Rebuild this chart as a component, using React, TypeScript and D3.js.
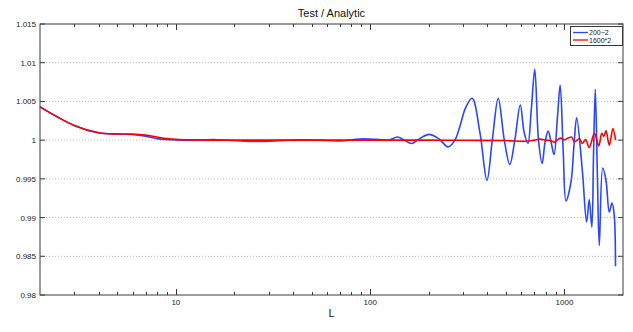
import * as d3 from 'd3';

// L values and ratios (Test / Analytic)
const blueL = [2, 3, 4, 5, 6, 7, 8, 10, 13, 16, 20, 25, 32, 42, 55, 70, 88, 108, 125, 138, 150, 163, 180, 201, 225, 252, 273, 289, 310, 335, 367, 399, 425, 456, 490, 523, 555, 592, 620, 648, 675, 703, 735, 767, 795, 824, 855, 884, 920, 950, 985, 1018, 1080, 1120, 1155, 1235, 1300, 1340, 1383, 1410, 1440, 1475, 1510, 1573, 1635, 1700, 1755, 1800, 1830];
const blueV = [1.0043, 1.0019, 1.00095, 1.00078, 1.00072, 1.0005, 1.0002, 1.00003, 1.0, 1.00006, 0.99995, 0.99982, 0.9999, 1.00005, 1.0, 0.9999, 1.00015, 1.0001, 1.0, 1.0004, 1.0, 0.99957, 1.0002, 1.00074, 1.0002, 0.99913, 1.0, 1.0017, 1.0042, 1.0054, 1.001, 0.99482, 1.0, 1.0054, 1.0, 0.99685, 1.0, 1.00453, 1.001, 0.99957, 1.004, 1.00916, 1.0, 0.99698, 0.9998, 1.00117, 0.9996, 0.99815, 1.003, 1.00712, 0.9985, 0.99214, 0.9946, 0.9995, 1.00289, 0.99611, 0.98942, 0.99232, 0.98877, 0.998, 1.00657, 0.996, 0.9864, 0.99641, 0.99482, 0.99071, 0.99188, 0.9905, 0.9837];

const redL = [2, 3, 4, 5, 6, 7, 8, 9, 10, 12, 20, 50, 100, 200, 300, 500, 630, 700, 748, 800, 850, 887, 950, 1000, 1050, 1090, 1125, 1191, 1237, 1284, 1340, 1425, 1500, 1555, 1592, 1635, 1700, 1775, 1830];
const redV = [1.0043, 1.0019, 1.00095, 1.0008, 1.00078, 1.00065, 1.0004, 1.0002, 1.0001, 1.00003, 1.0, 1.0, 1.0, 1.0, 0.99998, 0.99995, 0.99985, 1.0, 1.00013, 1.0, 0.99995, 0.99974, 1.00026, 1.00005, 1.0003, 1.00039, 0.99978, 1.00017, 0.99957, 1.00009, 0.99905, 1.00087, 0.99926, 1.00087, 1.0005, 1.0012, 0.99935, 1.00151, 1.0];

const yTicks = [0.98, 0.985, 0.99, 0.995, 1, 1.005, 1.01, 1.015];
const yLabels = ['0.98', '0.985', '0.99', '0.995', '1', '1.005', '1.01', '1.015'];
const xMajor = [10, 100, 1000];
const xLabels = ['10', '100', '1000'];
const seriesNames = ['200\u22122', '1600*2'];
const seriesColors = ['#2a46ff', '#ff0000'];

const W = 633;
const H = 332;
const left = 40, right = 623, top = 24, bottom = 295;
const font = '"Liberation Sans", Arial, sans-serif';

export default function App() {
  const x = d3.scaleLog().domain([2, 2000]).range([left, right]);
  const y = d3.scaleLinear().domain([0.98, 1.015]).range([bottom, top]);

  const line = d3.line<[number, number]>()
    .x(d => x(d[0]))
    .y(d => y(d[1]))
    .curve(d3.curveCatmullRom.alpha(0.5));

  const bluePts = blueL.map((l, i) => [l, blueV[i]] as [number, number]);
  const redPts = redL.map((l, i) => [l, redV[i]] as [number, number]);

  const allTicks = x.ticks().filter(t => t > 2 && t < 2000);
  const isMajor = (t: number) => xMajor.includes(t);

  return (
    <svg width={W} height={H} style={{ position: 'absolute', left: 0, top: 0, background: '#fff' }}>
      <rect x={0} y={0} width={W} height={H} fill="#fff" />

      {/* grid */}
      {yTicks.slice(1, -1).map(t => (
        <line key={'g' + t} x1={left} x2={right} y1={y(t)} y2={y(t)}
          stroke="#b8b8b8" strokeWidth={1} strokeDasharray="1,2" />
      ))}

      {/* series */}
      <path d={line(bluePts) || ''} fill="none" stroke={seriesColors[0]} strokeWidth={1.6} strokeLinejoin="round" />
      <path d={line(redPts) || ''} fill="none" stroke={seriesColors[1]} strokeWidth={1.6} strokeLinejoin="round" />

      {/* box */}
      <rect x={left} y={top} width={right - left} height={bottom - top} fill="none" stroke="#3a3a3a" strokeWidth={1} />

      {/* x ticks */}
      {allTicks.map(t => {
        const len = isMajor(t) ? 6 : 3;
        const px = Math.round(x(t)) + 0.5;
        return (
          <g key={'x' + t}>
            <line x1={px} x2={px} y1={bottom} y2={bottom - len} stroke="#3a3a3a" />
            <line x1={px} x2={px} y1={top} y2={top + len} stroke="#3a3a3a" />
          </g>
        );
      })}
      {xMajor.map((t, i) => (
        <text key={'xl' + t} x={x(t)} y={305} textAnchor="middle" fontFamily={font} fontSize={8} fill="#222">
          {xLabels[i]}
        </text>
      ))}

      {/* y ticks */}
      {yTicks.map((t, i) => (
        <g key={'y' + t}>
          <line x1={left} x2={left + 5} y1={y(t)} y2={y(t)} stroke="#3a3a3a" />
          <line x1={right - 5} x2={right} y1={y(t)} y2={y(t)} stroke="#3a3a3a" />
          <text x={36} y={y(t) + 3} textAnchor="end" fontFamily={font} fontSize={8} fill="#222">
            {yLabels[i]}
          </text>
        </g>
      ))}

      {/* title and axis label */}
      <text x={(left + right) / 2} y={17} textAnchor="middle" fontFamily={font} fontSize={11} fill="#111">
        Test / Analytic
      </text>
      <text x={(left + right) / 2} y={317} textAnchor="middle" fontFamily={font} fontSize={11} fill="#111">
        L
      </text>

      {/* legend */}
      <rect x={570.5} y={26.5} width={52} height={19} fill="#fff" stroke="#3a3a3a" strokeWidth={1} />
      {seriesNames.map((s, i) => (
        <g key={s}>
          <line x1={573} x2={588} y1={32.5 + i * 7.5} y2={32.5 + i * 7.5} stroke={seriesColors[i]} strokeWidth={1.3} />
          <text x={589} y={35 + i * 7.5} fontFamily={font} fontSize={7} fill="#222">{s}</text>
        </g>
      ))}
    </svg>
  );
}
